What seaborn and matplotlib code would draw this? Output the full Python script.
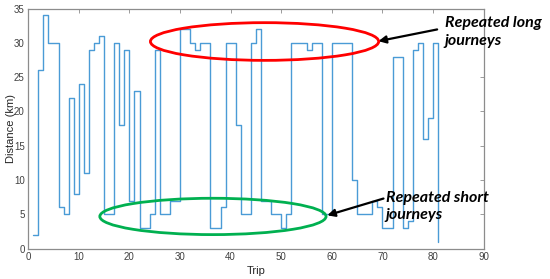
import matplotlib
matplotlib.use("Agg")
import matplotlib.pyplot as plt
from matplotlib.patches import Ellipse
import seaborn as sns
import pandas as pd

trips = list(range(1, 82))
distance = [2, 26, 34, 30, 30, 6, 5, 22, 8, 24,
            11, 29, 30, 31, 5, 5, 30, 18, 29, 7,
            23, 3, 3, 5, 29, 5, 5, 7, 7, 32,
            32, 30, 29, 30, 30, 3, 3, 6, 30, 30,
            18, 5, 5, 30, 32, 7, 7, 5, 5, 3,
            5, 30, 30, 30, 29, 30, 30, 5, 5, 30,
            30, 30, 30, 10, 5, 5, 5, 7, 6, 3,
            3, 28, 28, 3, 4, 29, 30, 16, 19, 30,
            1]
x_ticks = list(range(0, 91, 10))
y_ticks = list(range(0, 36, 5))
long_label = ["Repeated long", "journeys"]
short_label = ["Repeated short", "journeys"]

sns.set_theme(style="white")
plt.rcParams["font.family"] = ["Liberation Sans", "DejaVu Sans"]

df = pd.DataFrame({"Trip": trips, "Distance (km)": distance})

W, H = 550, 279
fig = plt.figure(figsize=(W / 100, H / 100), dpi=100)
ax_l, ax_r, ax_t, ax_b = 28.2, 483.7, 8.6, 248.6
ax = fig.add_axes([ax_l / W, 1 - ax_b / H, (ax_r - ax_l) / W, (ax_b - ax_t) / H])

sns.lineplot(data=df, x="Trip", y="Distance (km)", drawstyle="steps-post",
             color="#4A9BD6", lw=1.0, ax=ax, estimator=None, sort=False)

ax.set_xlim(0, 90)
ax.set_ylim(0, 35)
ax.set_xticks(x_ticks)
ax.set_yticks(y_ticks)
ax.tick_params(direction="in", top=True, right=True, length=3, width=0.6,
               colors="#8c8c8c", labelcolor="#404040", labelsize=7, pad=2.5)
for s in ax.spines.values():
    s.set_color("#8c8c8c")
    s.set_linewidth(0.9)

ax.set_xlabel("Trip", fontsize=8, color="#262626")
ax.set_ylabel("Distance (km)", fontsize=8, color="#262626")
ax.xaxis.set_label_coords(0.5, -(271 - ax_b) / (ax_b - ax_t))
ax.xaxis.label.set_va("center")
ax.yaxis.set_label_coords((10.5 - ax_l) / (ax_r - ax_l), 0.5)
ax.yaxis.label.set_va("center")

# ellipses (data coordinates)
ax.add_patch(Ellipse((46.7, 30.2), 45.1, 5.5, fill=False, edgecolor="#ff0000",
                     lw=2.0, clip_on=False, zorder=5))
ax.add_patch(Ellipse((36.5, 4.69), 44.7, 5.3, fill=False, edgecolor="#00b050",
                     lw=2.0, clip_on=False, zorder=5))

# arrows
arrow_kw = dict(arrowstyle="-|>", color="black", lw=1.6, mutation_scale=11,
                shrinkA=0, shrinkB=0)
ax.annotate("", xy=(69.2, 30.25), xytext=(80.8, 31.96), xycoords="data",
            arrowprops=arrow_kw, annotation_clip=False)
ax.annotate("", xy=(59.1, 4.85), xytext=(70.2, 7.3), xycoords="data",
            arrowprops=arrow_kw, annotation_clip=False)

txt_kw = dict(fontsize=11.5, fontweight="bold", fontstyle="italic",
              family=["Lato", "DejaVu Sans"], color="black", va="baseline", ha="left")
fig.text(445 / W, 1 - 26.5 / H, long_label[0], **txt_kw)
fig.text(444 / W, 1 - 45 / H, long_label[1], **txt_kw)
fig.text(386.5 / W, 1 - 202 / H, short_label[0], **txt_kw)
fig.text(385 / W, 1 - 219.5 / H, short_label[1], **txt_kw)

fig.savefig("out.png", dpi=100)
